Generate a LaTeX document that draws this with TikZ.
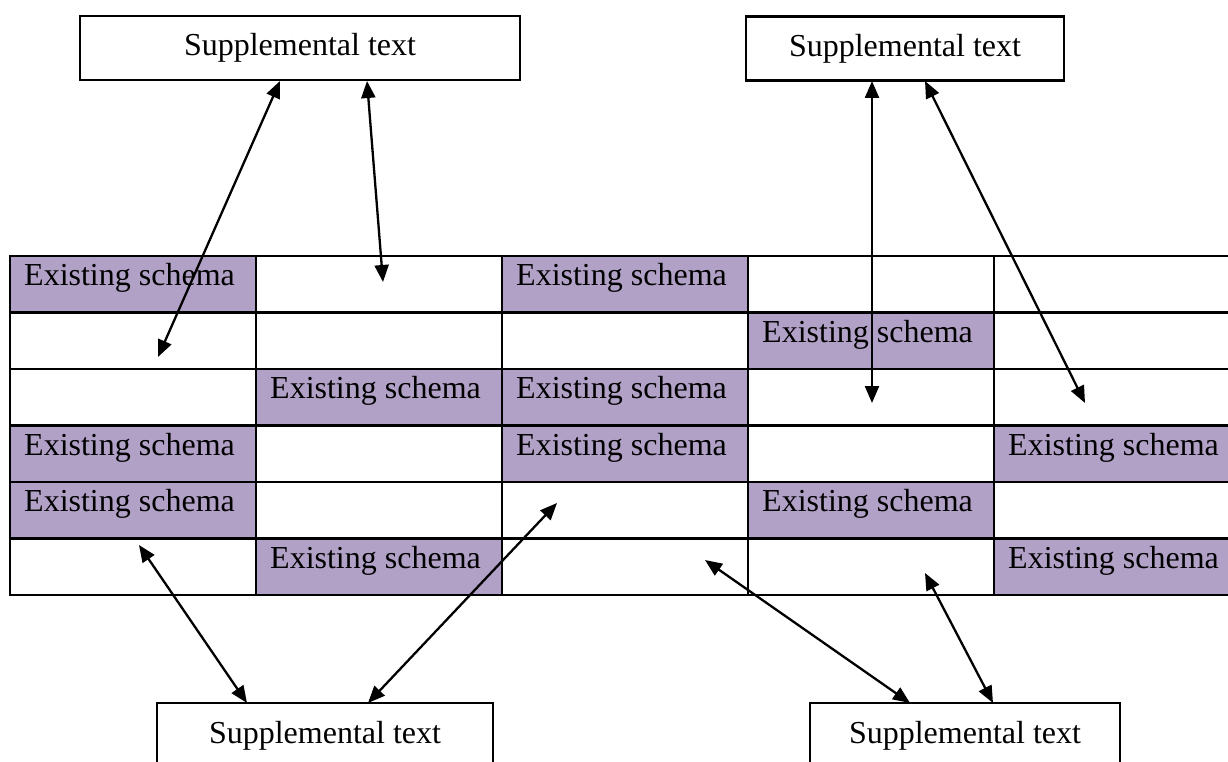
\documentclass[tikz,border=0pt]{standalone}
\usepackage{fontspec}
\setmainfont{Liberation Serif}
\usetikzlibrary{arrows.meta}
\definecolor{schema}{HTML}{B2A1C7}
\begin{document}
\begin{tikzpicture}[x=1pt,y=-1pt,
  cellbox/.style={anchor=north west,minimum width=246pt,minimum height=56.5pt,inner sep=0pt,outer sep=0pt},
  gridline/.style={line width=2.4pt},
  celltext/.style={anchor=base west,inner sep=0pt,font=\fontsize{32}{36}\selectfont},
  sbox/.style={draw,line width=2.4pt,fill=white,inner sep=0pt,minimum height=64pt,font=\fontsize{32}{36}\selectfont},
  link/.style={line width=2.3pt,{Triangle[length=17pt,width=14pt]}-{Triangle[length=17pt,width=14pt]}}
]
\useasboundingbox (0,0) rectangle (1228,762);
\clip (0,0) rectangle (1228,762);
\fill[white] (0,0) rectangle (1228,762);
% table cells
\foreach \r in {1,...,6}{
  \foreach \c in {1,...,5}{
    \node[cellbox] (c\r\c) at ({10+246*(\c-1)},{256+56.5*(\r-1)}) {};
  }
}
\foreach \rc in {11,13,24,32,33,41,43,45,51,54,62,65}{
  \fill[schema] (c\rc.north west) rectangle (c\rc.south east);
  \node[celltext] (t\rc) at ([xshift=14pt,yshift=-29.5pt]c\rc.north west) {Existing schema};
}
\foreach \r in {1,...,6}{
  \foreach \c in {1,...,5}{
    \draw[gridline] (c\r\c.north west) rectangle (c\r\c.south east);
  }
}
% supplemental boxes
\node[sbox,minimum width=440pt] (tl) at (300,48) {Supplemental text};
\node[sbox,minimum width=318pt] (tr) at (905,48.5) {Supplemental text};
\node[sbox,minimum width=336pt,minimum height=65pt] (bl) at (325,735.5) {Supplemental text};
\node[sbox,minimum width=310pt,minimum height=65pt] (br) at (965,735.5) {Supplemental text};
% arrow end points
\coordinate (tlA) at (280,81);
\coordinate (tlB) at (367,81);
\coordinate (trA) at (872,81);
\coordinate (trB) at (925,81);
\coordinate (blA) at (247,703);
\coordinate (blB) at (368,703);
\coordinate (brA) at (910,703);
\coordinate (brB) at (993,703);
\coordinate (e1) at (158,357);
\coordinate (e2) at (383,282);
\coordinate (e3) at (872,403);
\coordinate (e4) at (1085,403);
\coordinate (e5) at (139,545);
\coordinate (e6) at (557,503);
\coordinate (e7) at (705,560);
\coordinate (e8) at (925,573);
% connectors
\draw[link] (tlA) -- (e1);
\draw[link] (tlB) -- (e2);
\draw[link] (trA) -- (e3);
\draw[link] (trB) -- (e4);
\draw[link] (blA) -- (e5);
\draw[link] (blB) -- (e6);
\draw[link] (brA) -- (e7);
\draw[link] (brB) -- (e8);
\end{tikzpicture}
\end{document}
